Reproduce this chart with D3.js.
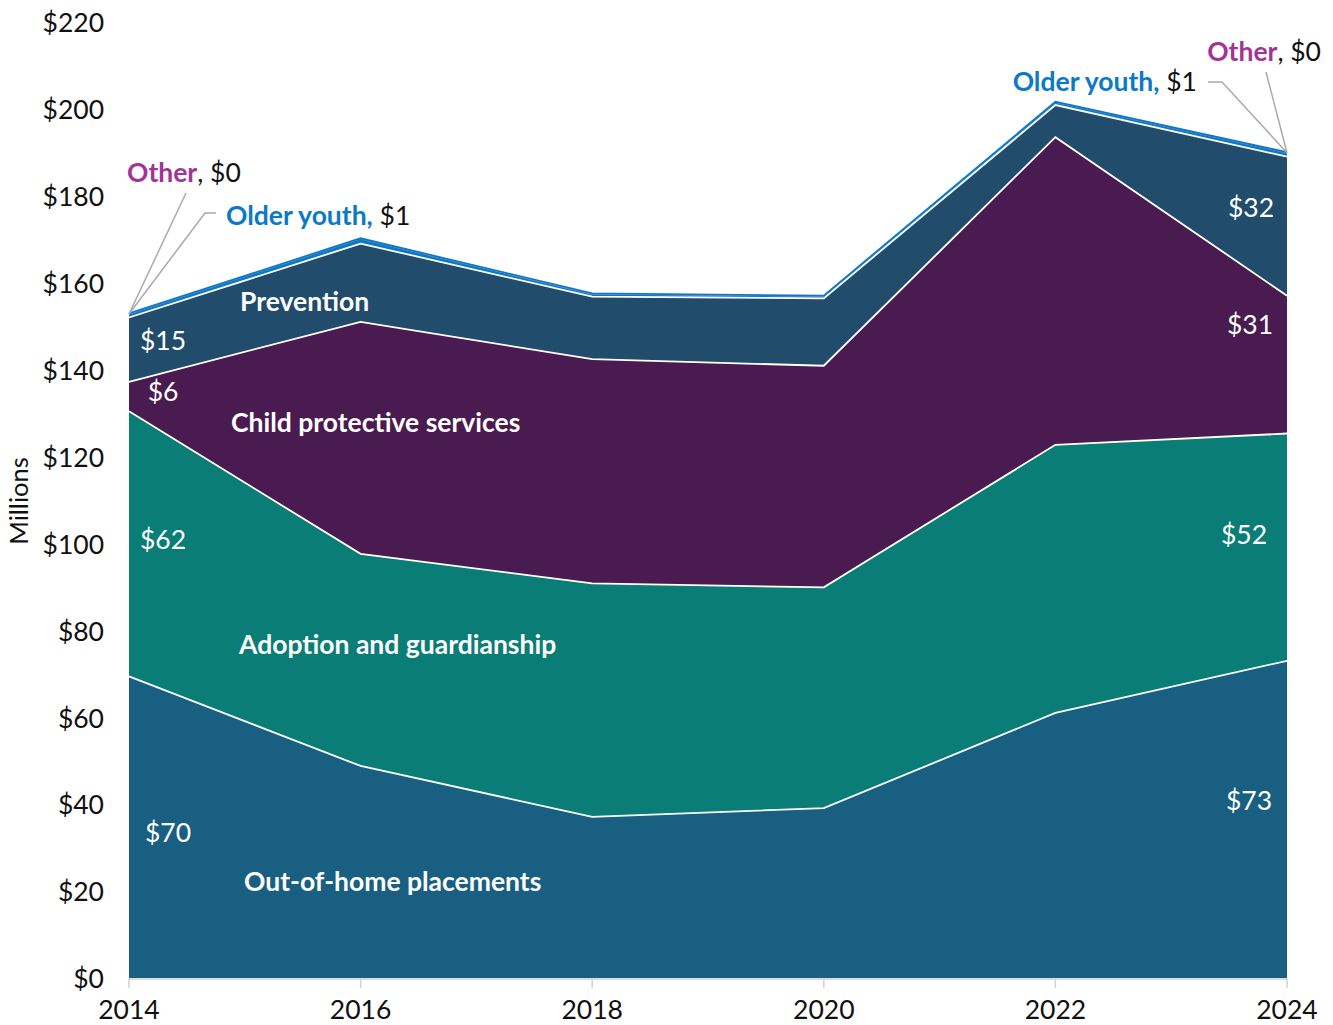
<!DOCTYPE html>
<html>
<head>
<meta charset="utf-8">
<script src="https://cdn.jsdelivr.net/npm/d3@7"></script>
<style>
  body { margin: 0; background: #fff; }
  svg text { font-family: Lato, "Open Sans", sans-serif; }
</style>
</head>
<body>
<svg id="chart" width="1333" height="1025"></svg>
<script>
(function () {
  "use strict";

  // values in $ millions
  const years = [2014, 2016, 2018, 2020, 2022, 2024]
  const outOfHome = [69.4, 48.8, 37.1, 39.1, 61.0, 73.0]
  const adoption = [61.0, 48.8, 53.7, 50.8, 61.7, 52.3]
  const cps = [6.8, 53.4, 51.6, 51.0, 70.8, 31.7]
  const prevention = [14.8, 18.0, 14.4, 15.5, 7.4, 32.0]
  const olderYouth = [0.7, 1.0, 0.5, 0.4, 0.5, 0.8]
  const other = [0.1, 0.1, 0.1, 0.1, 0.1, 0.1]
  const yTicks = [0, 20, 40, 60, 80, 100, 120, 140, 160, 180, 200, 220]

  const keys = ["ooh", "adopt", "cps", "prev", "youth", "other"]
  const colors = {
    ooh: "#185f82", adopt: "#0a7d76", cps: "#4a1b50",
    prev: "#214c6b", youth: "#0a7ac6", other: "#a23397"
  }
  const fs = 26.5

  let rows = years.map(function (y, i) {
    return { year: y, ooh: outOfHome[i], adopt: adoption[i], cps: cps[i],
             prev: prevention[i], youth: olderYouth[i], other: other[i] }
  })

  let svg = d3.select("#chart")
  let x = d3.scaleLinear().domain([2014, 2024]).range([129, 1287])
  let y = d3.scaleLinear().domain([0, 220]).range([978, 22])

  let series = d3.stack().keys(keys)(rows)

  let area = d3.area()
    .x(d => x(d.data.year))
    .y0(d => y(d[0]))
    .y1(d => y(d[1]))

  svg.append("g").selectAll("path")
    .data(series)
    .join("path")
    .attr("d", area)
    .attr("fill", d => colors[d.key])

  // white separators on top of the main layers
  let topLine = d3.line()
    .x(d => x(d.data.year))
    .y(d => y(d[1]))
  svg.append("g").selectAll("path")
    .data(series.slice(0, 4))
    .join("path")
    .attr("d", topLine)
    .attr("fill", "none")
    .attr("stroke", "#fff")
    .attr("stroke-width", 1.8)

  // older youth is thin, redraw it as a line so it stays visible
  svg.append("path")
    .datum(series[4])
    .attr("d", topLine)
    .attr("fill", "none")
    .attr("stroke", colors.youth)
    .attr("stroke-width", 1.8)
    .attr("transform", "translate(0,-1)")

  // x axis
  let xa = svg.append("g")
  xa.append("line")
    .attr("x1", x(2014)).attr("x2", x(2024))
    .attr("y1", y(0) + 1).attr("y2", y(0) + 1)
    .attr("stroke", "#d0d0d0").attr("stroke-width", 1.5)
  xa.selectAll(".tk").data(years).join("line")
    .attr("x1", d => x(d)).attr("x2", d => x(d))
    .attr("y1", y(0) + 1).attr("y2", y(0) + 10)
    .attr("stroke", "#d0d0d0").attr("stroke-width", 1.5)
  xa.selectAll("text").data(years).join("text")
    .attr("x", d => x(d)).attr("y", 1019)
    .attr("text-anchor", "middle")
    .attr("font-size", fs)
    .attr("fill", "#111")
    .text(d => d)

  // y labels
  svg.append("g").selectAll("text").data(yTicks).join("text")
    .attr("x", 104).attr("y", d => y(d) + 1)
    .attr("dy", "0.35em")
    .attr("text-anchor", "end")
    .attr("font-size", fs)
    .attr("fill", "#111")
    .text(d => "$" + d)

  svg.append("text")
    .attr("transform", "translate(28,501) rotate(-90)")
    .attr("text-anchor", "middle")
    .attr("font-size", 25.5)
    .attr("fill", "#111")
    .text("Millions")

  // in-area labels
  const inLabels = [
    ["$70", 168, 833, "middle", false], ["Out-of-home placements", 244, 882, "start", true],
    ["$62", 163, 540, "middle", false], ["Adoption and guardianship", 239, 645, "start", true],
    ["$6", 163, 392, "middle", false], ["Child protective services", 231, 423, "start", true],
    ["$15", 163, 341, "middle", false], ["Prevention", 240, 302, "start", true],
    ["$32", 1251, 208, "middle", false], ["$31", 1250, 325, "middle", false],
    ["$52", 1244, 535, "middle", false], ["$73", 1249, 801, "middle", false]
  ]
  svg.append("g").selectAll("text").data(inLabels).join("text")
    .attr("x", d => d[1]).attr("y", d => d[2])
    .attr("dy", "0.35em")
    .attr("text-anchor", d => d[3])
    .attr("font-size", fs)
    .attr("font-weight", d => d[4] ? 700 : 400)
    .attr("fill", "#fff")
    .text(d => d[0])

  // leader lines for the thin layers
  let p14 = [x(2014), y(d3.sum(keys, k => rows[0][k]))]
  let p24 = [x(2024), y(d3.sum(keys, k => rows[5][k]))]
  const leaders = [
    [p14, [186, 193]],
    [p14, [205, 213], [216, 213]],
    [p24, [1222, 82], [1208, 82]],
    [p24, [1266, 72]]
  ]
  svg.append("g").selectAll("path").data(leaders).join("path")
    .attr("d", d => d3.line()(d))
    .attr("fill", "none")
    .attr("stroke", "#aaa")
    .attr("stroke-width", 1.5)

  function callout(tx, ty, anchor, name, color, val) {
    let t = svg.append("text")
      .attr("x", tx).attr("y", ty)
      .attr("dy", "0.35em")
      .attr("text-anchor", anchor)
      .attr("font-size", fs)
    t.append("tspan").attr("fill", color).attr("font-weight", 700).text(name)
    t.append("tspan").attr("fill", "#111").text(val)
  }
  callout(127, 173, "start", "Other", colors.other, ", $0")
  callout(226, 216, "start", "Older youth,", colors.youth, " $1")
  callout(1197, 82, "end", "Older youth,", colors.youth, " $1")
  callout(1321, 52, "end", "Other", colors.other, ", $0")
})();
</script>
</body>
</html>
